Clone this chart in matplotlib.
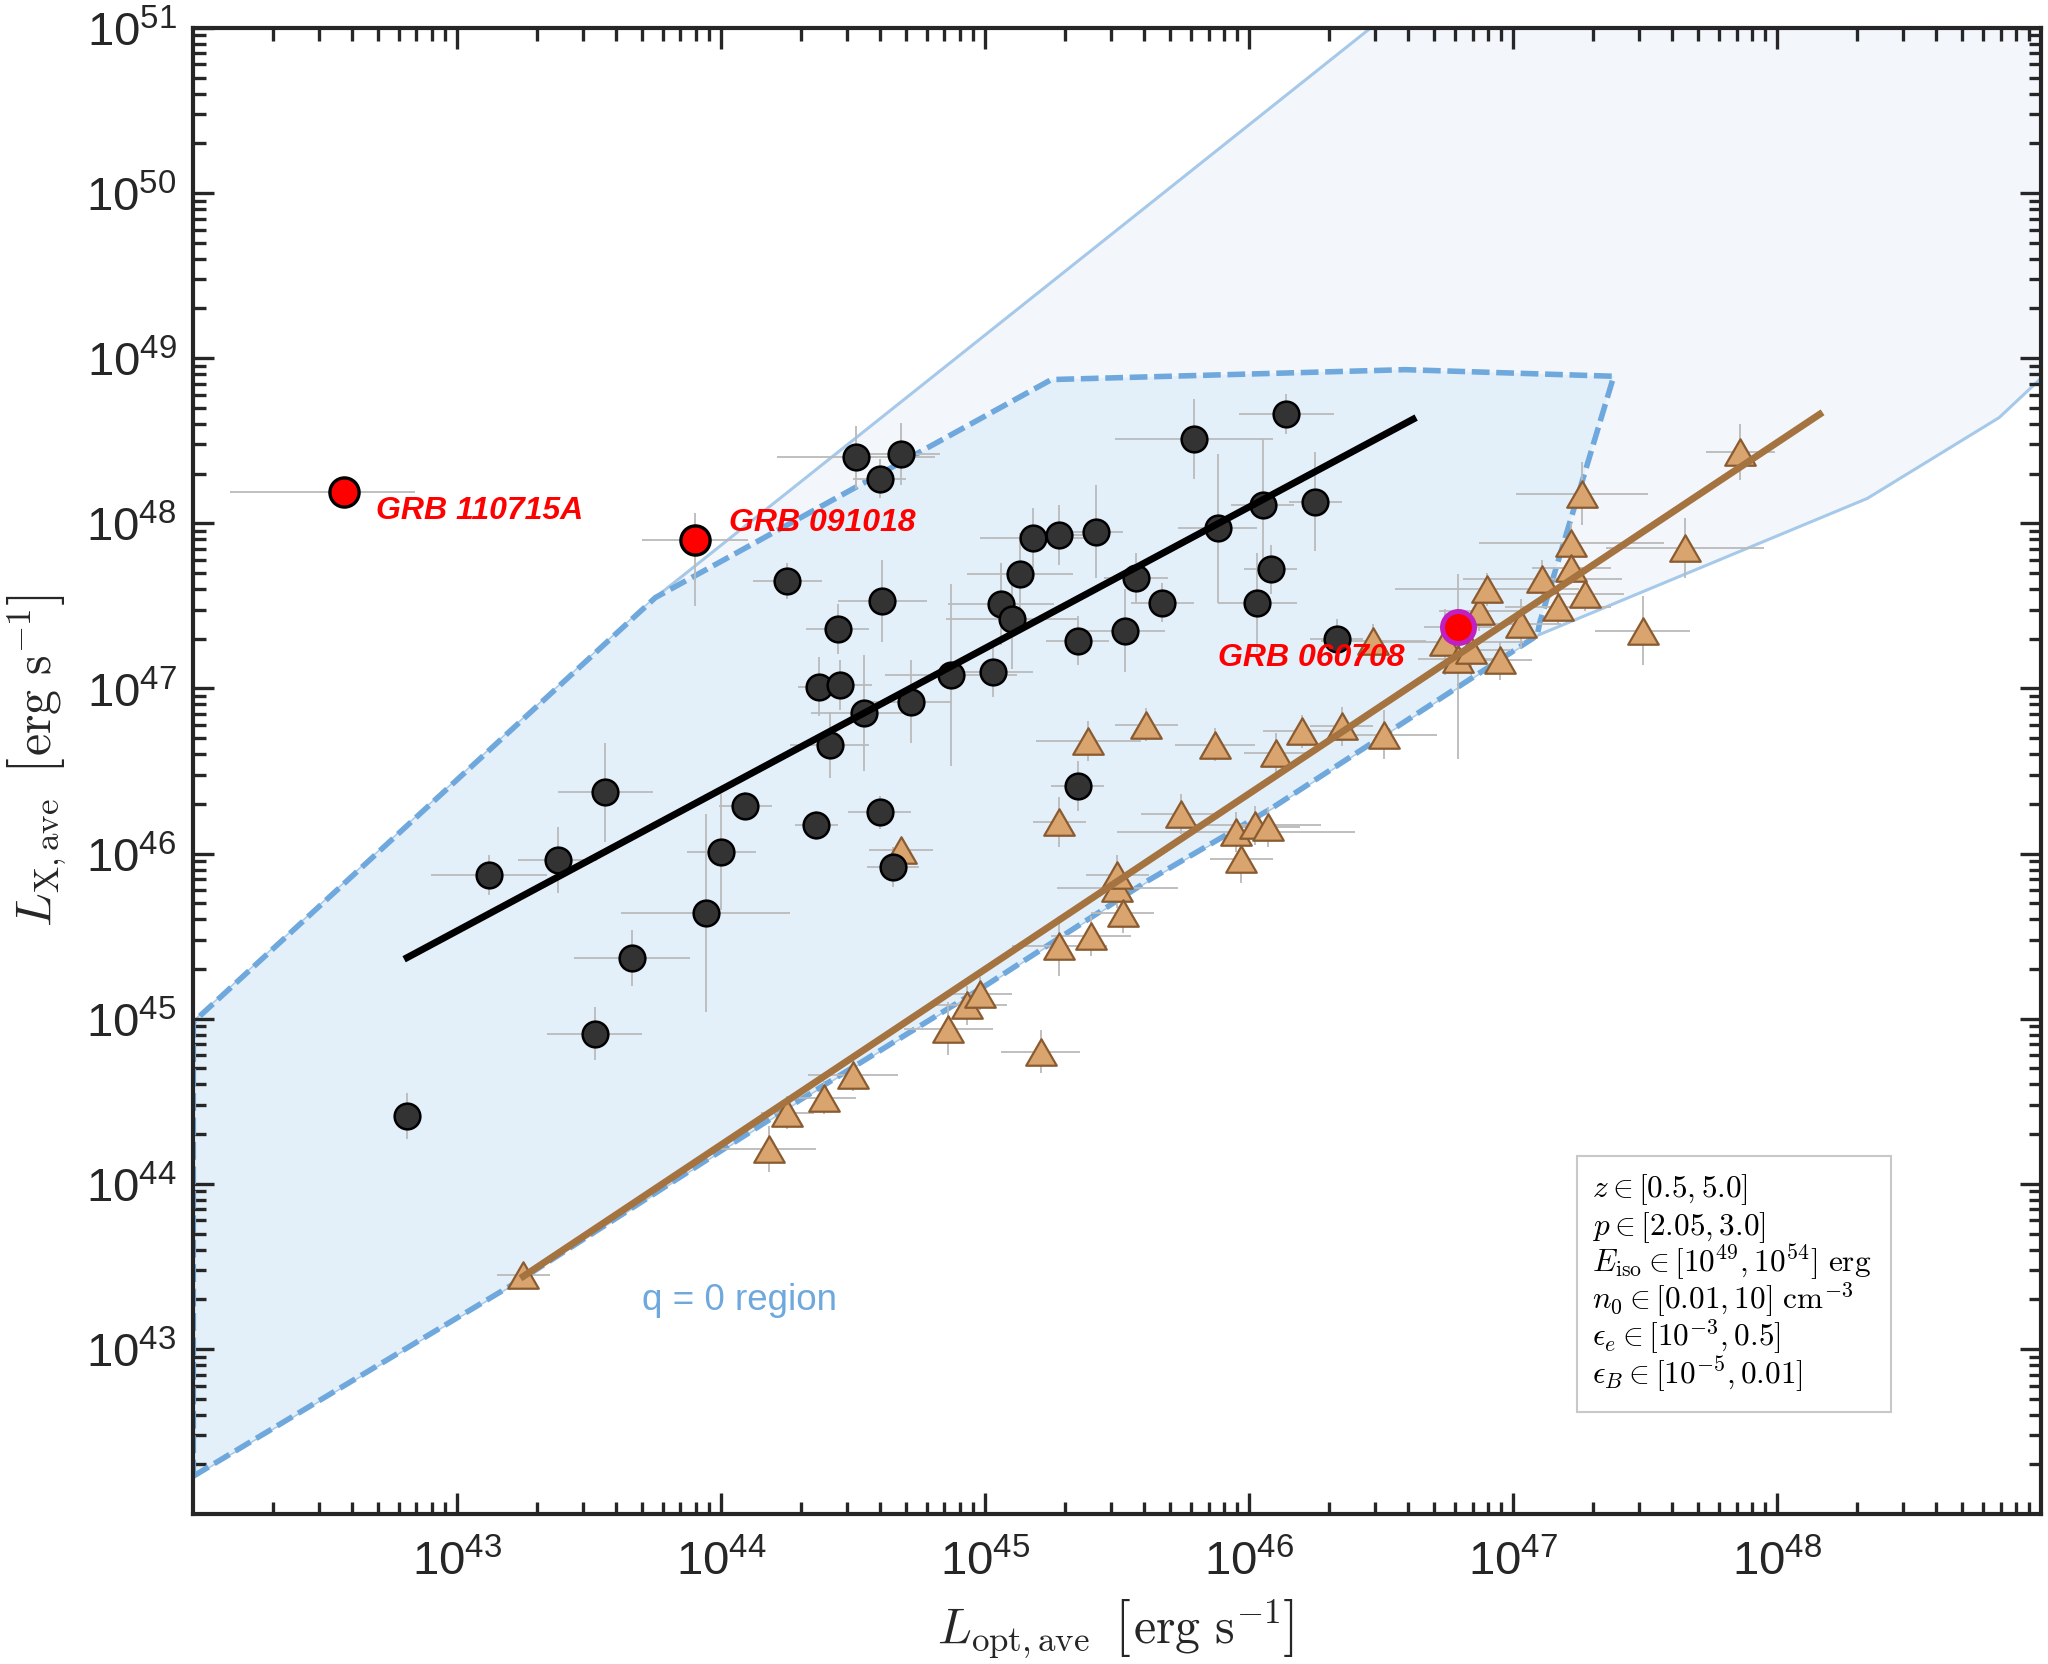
import numpy as np
import matplotlib
matplotlib.use("Agg")
import matplotlib.pyplot as plt
from matplotlib.ticker import LogLocator, FixedLocator, NullFormatter
from matplotlib.patches import Rectangle
from matplotlib.path import Path
from matplotlib.transforms import IdentityTransform

plt.rcParams["font.family"] = ["Liberation Sans", "DejaVu Sans"]
plt.rcParams["mathtext.fontset"] = "cm"

# ------------------------------------------------
# data, all in log10(L / erg s^-1)
# ------------------------------------------------

# black circles (sample 1)
bx = [42.81, 43.12, 43.38, 43.52, 43.56, 43.66, 43.94, 44.00, 44.09, 44.25,
      44.36, 44.37, 44.41, 44.44, 44.45, 44.51, 44.54, 44.60, 44.60, 44.61,
      44.65, 44.68, 44.72, 44.87, 45.03, 45.06, 45.10, 45.13, 45.18, 45.28,
      45.35, 45.35, 45.42, 45.53, 45.57, 45.67, 45.79, 45.88, 46.03, 46.05,
      46.08, 46.14, 46.25, 46.33]
by = [44.41, 45.87, 45.96, 44.91, 46.37, 45.37, 45.64, 46.01, 46.29, 47.65,
      46.17, 47.01, 46.66, 47.36, 47.02, 48.40, 46.85, 48.27, 46.25, 47.53,
      45.92, 48.42, 46.92, 47.08, 47.10, 47.51, 47.42, 47.69, 47.91, 47.93,
      47.29, 46.41, 47.95, 47.35, 47.67, 47.52, 48.51, 47.97, 47.52, 48.11,
      47.72, 48.66, 48.13, 47.30]
bxe = [0.05, 0.22, 0.15, 0.18, 0.18, 0.22, 0.32, 0.13, 0.10, 0.13,
       0.08, 0.08, 0.15, 0.12, 0.12, 0.30, 0.20, 0.10, 0.12, 0.17,
       0.10, 0.15, 0.15, 0.25, 0.15, 0.20, 0.25, 0.20, 0.20, 0.10,
       0.12, 0.10, 0.10, 0.15, 0.12, 0.12, 0.30, 0.15, 0.15, 0.12,
       0.10, 0.18, 0.10, 0.10]
bye = [0.14, 0.12, 0.20, 0.16, 0.30, 0.17, 0.60, 0.35, 0.08, 0.11,
       0.09, 0.18, 0.20, 0.15, 0.15, 0.19, 0.35, 0.12, 0.10, 0.25,
       0.12, 0.19, 0.25, 0.55, 0.15, 0.25, 0.30, 0.25, 0.18, 0.18,
       0.15, 0.15, 0.28, 0.25, 0.15, 0.12, 0.24, 0.45, 0.30, 0.40,
       0.15, 0.12, 0.30, 0.12]

# brown triangles (sample 2)
tx = [43.25, 44.18, 44.25, 44.39, 44.50, 44.68, 44.86, 44.93, 44.98, 45.21,
      45.28, 45.28, 45.39, 45.40, 45.50, 45.50, 45.52, 45.61, 45.74, 45.87,
      45.95, 45.97, 46.02, 46.07, 46.10, 46.20, 46.35, 46.47, 46.51, 46.74,
      46.79, 46.84, 46.87, 46.90, 46.95, 47.03, 47.11, 47.17, 47.22, 47.22,
      47.26, 47.27, 47.49, 47.65, 47.86]
ty = [43.45, 44.21, 44.43, 44.52, 44.66, 46.02, 44.94, 45.08, 45.15, 44.80,
      45.44, 46.19, 46.68, 45.50, 45.79, 45.87, 45.64, 46.78, 46.24, 46.66,
      46.13, 45.97, 46.17, 46.16, 46.61, 46.74, 46.77, 47.29, 46.72, 47.28,
      47.18, 47.23, 47.47, 47.60, 47.17, 47.39, 47.66, 47.49, 47.88, 47.73,
      48.18, 47.57, 47.35, 47.85, 48.43]
txe = [0.10, 0.18, 0.10, 0.12, 0.17, 0.12, 0.17, 0.15, 0.12, 0.15,
       0.18, 0.10, 0.20, 0.15, 0.23, 0.12, 0.12, 0.12, 0.15, 0.15,
       0.45, 0.12, 0.25, 0.12, 0.12, 0.15, 0.12, 0.20, 0.20, 0.30,
       0.15, 0.15, 0.15, 0.35, 0.12, 0.15, 0.30, 0.20, 0.35, 0.15,
       0.25, 0.15, 0.18, 0.30, 0.13]
tye = [0.06, 0.14, 0.10, 0.10, 0.10, 0.08, 0.16, 0.12, 0.10, 0.13,
       0.18, 0.15, 0.12, 0.12, 0.12, 0.12, 0.12, 0.10, 0.12, 0.10,
       0.12, 0.15, 0.12, 0.12, 0.12, 0.10, 0.12, 0.10, 0.15, 0.20,
       0.12, 0.15, 0.12, 0.10, 0.12, 0.15, 0.12, 0.10, 0.12, 0.10,
       0.19, 0.10, 0.21, 0.18, 0.17]

# highlighted bursts
grb_names = ["GRB 110715A", "GRB 091018", "GRB 060708"]
rx = [42.57, 43.90, 46.79]
ry = [48.19, 47.90, 47.37]
rx_lo = [0.43, 0.20, 0.13]
rx_hi = [0.27, 0.20, 0.13]
ry_lo = [0.04, 0.40, 0.80]
ry_hi = [0.04, 0.16, 0.32]

# best-fit lines
fit1_x = [42.81, 46.62]
fit1_y = [45.37, 48.63]
fit2_x = [43.25, 48.16]
fit2_y = [43.44, 48.66]

# model regions: shared lower edge, q=0 upper part, full-region upper part
lower_x = [42.00, 43.23, 44.30, 45.01, 45.62, 46.08, 47.09]
lower_y = [42.23, 43.41, 44.51, 45.21, 45.84, 46.27, 47.32]
q0_x = [47.10, 47.38, 46.59, 45.25, 43.75, 42.00]
q0_y = [47.40, 48.89, 48.93, 48.87, 47.55, 44.98]
full_x = [48.34, 48.84, 49.00, 49.00, 46.46, 43.75, 42.00]
full_y = [48.15, 48.64, 48.88, 51.00, 51.00, 47.55, 44.98]

box_lines = [r"$z \in [0.5, 5.0]$",
             r"$p \in [2.05, 3.0]$",
             r"$E_{\rm iso} \in [10^{49}, 10^{54}]\ {\rm erg}$",
             r"$n_0 \in [0.01, 10]\ {\rm cm}^{-3}$",
             r"$\epsilon_e \in [10^{-3}, 0.5]$",
             r"$\epsilon_B \in [10^{-5}, 0.01]$"]


def lin(a):
    return 10.0 ** np.asarray(a, dtype=float)


def err(v, lo, hi=None):
    v = np.asarray(v, dtype=float)
    lo = np.asarray(lo, dtype=float)
    hi = lo if hi is None else np.asarray(hi, dtype=float)
    return [10 ** v - 10 ** (v - lo), 10 ** (v + hi) - 10 ** v]


axc = "#262626"

fig = plt.figure(figsize=(20.48, 16.65), dpi=100)
ax = fig.add_axes([0.0944, 0.0900, 0.9024, 0.8927])
ax.set_xscale("log")
ax.set_yscale("log")

# ------------------------------------------------
# shaded regions
# ------------------------------------------------
ax.fill(lin(lower_x + full_x), lin(lower_y + full_y), facecolor="#f3f7fc",
        edgecolor="#a6c9ea", linewidth=2.2, zorder=1)
ax.fill(lin(lower_x + q0_x), lin(lower_y + q0_y), facecolor="#e3eff9",
        edgecolor="none", zorder=1.5)
ax.plot(lin(lower_x + q0_x + lower_x[:1]), lin(lower_y + q0_y + lower_y[:1]),
        color="#6fa8dc", linewidth=4.0, dashes=(3.2, 1.2), zorder=2)

# ------------------------------------------------
# data points
# ------------------------------------------------
ecol = "#bababa"
ax.errorbar(lin(tx), lin(ty), xerr=err(tx, txe), yerr=err(ty, tye), fmt="none",
            ecolor=ecol, elinewidth=1.3, capsize=0, zorder=3)
ax.errorbar(lin(bx), lin(by), xerr=err(bx, bxe), yerr=err(by, bye), fmt="none",
            ecolor=ecol, elinewidth=1.3, capsize=0, zorder=3)
ax.errorbar(lin(rx), lin(ry), xerr=err(rx, rx_lo, rx_hi), yerr=err(ry, ry_lo, ry_hi),
            fmt="none", ecolor=ecol, elinewidth=1.3, capsize=0, zorder=3)

tri = Path([(-1, -0.866), (1, -0.866), (0, 0.866), (-1, -0.866)], closed=True)
ax.plot(lin(tx), lin(ty), linestyle="none", marker=tri, markersize=22,
        markerfacecolor="#d9a46e", markeredgecolor="#8a5b30", markeredgewidth=1.6, zorder=4)
ax.plot(lin(bx), lin(by), linestyle="none", marker="o", markersize=18.5,
        markerfacecolor="#333333", markeredgecolor="black", markeredgewidth=1.8, zorder=5)

ax.plot(lin(fit1_x), lin(fit1_y), color="black", linewidth=5, zorder=6)
ax.plot(lin(fit2_x), lin(fit2_y), color="#a5733f", linewidth=5, zorder=6)

ax.plot(lin(rx[:2]), lin(ry[:2]), linestyle="none", marker="o", markersize=21,
        markerfacecolor="red", markeredgecolor="black", markeredgewidth=2.4, zorder=7)
ax.plot(lin(rx[2:]), lin(ry[2:]), linestyle="none", marker="o", markersize=23,
        markerfacecolor="red", markeredgecolor="#c020c0", markeredgewidth=3.6, zorder=7)

# labels for the highlighted bursts
label_pos = [(42.69, 48.08), (44.03, 48.01), (45.88, 47.19)]
for name, (lx, ly) in zip(grb_names, label_pos):
    ax.text(10 ** lx, 10 ** ly, name, color="red", fontsize=23, fontweight="bold",
            fontstyle="italic", ha="left", va="center", zorder=8)

ax.text(10 ** 43.70, 10 ** 43.30, "q = 0 region", color="#6fa8dc", fontsize=26.5,
        ha="left", va="center", zorder=8)

# parameter box
ax.add_patch(Rectangle((0.7486, 0.0688), 0.1700, 0.1721, transform=ax.transAxes,
                       facecolor="white", edgecolor="#c8c8c8", linewidth=1.5, zorder=8))
for i, line in enumerate(box_lines):
    ax.text(0.7566, 0.2140 - i * 0.02523, line, transform=ax.transAxes,
            fontsize=22.5, ha="left", va="baseline", zorder=9)

# ------------------------------------------------
# axes styling
# ------------------------------------------------
ax.set_xlim(1e42, 1e49)
ax.set_ylim(1e42, 1e51)
ax.xaxis.set_major_locator(FixedLocator(10.0 ** np.arange(43, 49)))
ax.yaxis.set_major_locator(FixedLocator(10.0 ** np.arange(43, 52)))
for axis in (ax.xaxis, ax.yaxis):
    axis.set_minor_locator(LogLocator(base=10, subs=np.arange(2, 10) * 1.0, numticks=100))
    axis.set_minor_formatter(NullFormatter())

ax.tick_params(which="both", direction="in", top=True, right=True, width=2.4,
               color=axc, labelcolor=axc, labelsize=34)
ax.tick_params(which="major", length=15)
ax.tick_params(which="minor", length=9)
ax.tick_params(axis="x", pad=18)
ax.tick_params(axis="y", pad=12)
for sp in ax.spines.values():
    sp.set_linewidth(3.0)
    sp.set_color(axc)
    sp.set_zorder(10)


# axis labels built from pieces so the brackets can be larger than the text
def piece_label(pieces, cx_target, cy_target=None, bottom=None, vertical=False):
    rend = fig.canvas.get_renderer()
    objs = []
    pos = 0.0
    for s, size, gap in pieces:
        pos += gap
        t = fig.text(0, 0, s, fontsize=size, color=axc, transform=IdentityTransform(),
                     ha="left", va="baseline", rotation=90 if vertical else 0,
                     rotation_mode="anchor")
        t.set_position((0, pos) if vertical else (pos, 0))
        bb = t.get_window_extent(rend)
        pos += bb.height if vertical else bb.width
        objs.append(t)
    bbs = [t.get_window_extent(rend) for t in objs]
    x0 = min(b.x0 for b in bbs)
    x1 = max(b.x1 for b in bbs)
    y0 = min(b.y0 for b in bbs)
    y1 = max(b.y1 for b in bbs)
    dx = cx_target - (x0 + x1) / 2
    dy = (bottom - y0) if bottom is not None else cy_target - (y0 + y1) / 2
    for t in objs:
        x, y = t.get_position()
        t.set_position((x + dx, y + dy))


lab_size = 36
br_size = lab_size * 1.15
xlabel_pieces = [(r"$L_{\rm opt,ave}$", lab_size, 0), (r"$[$", br_size, 24),
                 (r"${\rm erg\ s}^{-1}$", lab_size, 2), (r"$]$", br_size, 2)]
ylabel_pieces = [(r"$L_{\rm X,ave}$", lab_size, 0), (r"$[$", br_size, 24),
                 (r"${\rm erg\ s}^{-1}$", lab_size, 2), (r"$]$", br_size, 2)]
piece_label(xlabel_pieces, 1115, bottom=4)
piece_label(ylabel_pieces, 37, cy_target=904, vertical=True)

fig.savefig("out.png", dpi=100)
